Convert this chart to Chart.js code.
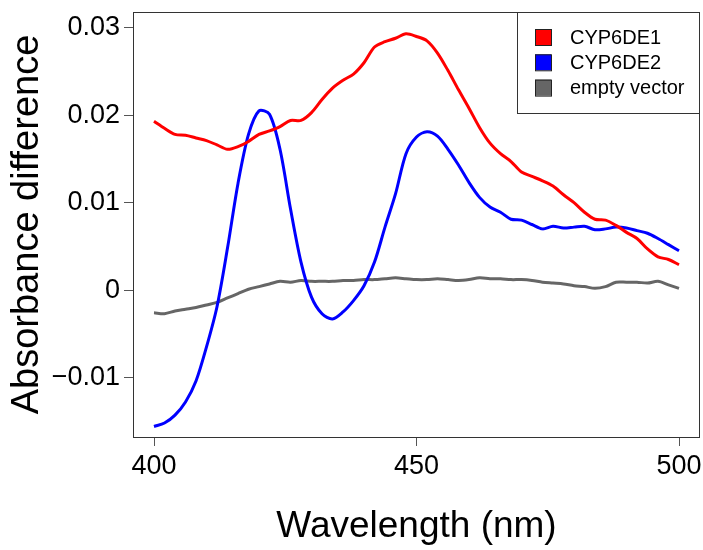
<!DOCTYPE html>
<html>
<head>
<meta charset="utf-8">
<script src="https://cdn.jsdelivr.net/npm/chart.js@4"></script>
<style>
  body { margin: 0; background: #fff; }
</style>
</head>
<body>
<canvas id="myChart" width="703" height="550"></canvas>
<script>
// wavelength (nm), every 2 nm
const wavelengths = [];
for (let w = 400; w <= 500; w += 2) wavelengths.push(w);

const cyp6de1 = [
  0.0193, 0.0185, 0.0178, 0.0177, 0.0174, 0.0171, 0.0166, 0.0161, 0.0164, 0.0170,
  0.0178, 0.0182, 0.0187, 0.0194, 0.0194, 0.0203, 0.0218, 0.0231, 0.0240, 0.0247,
  0.0260, 0.0278, 0.0284, 0.0288, 0.0293, 0.0290, 0.0285, 0.0271, 0.0251, 0.0229,
  0.0208, 0.0186, 0.0168, 0.0156, 0.0147, 0.0135, 0.0130, 0.0125, 0.0119, 0.0109,
  0.0100, 0.0089, 0.0081, 0.0080, 0.0074, 0.0066, 0.0059, 0.0047, 0.0038, 0.0035,
  0.0029
];

const cyp6de2 = [
  -0.0156, -0.0152, -0.0143, -0.0128, -0.0104, -0.0065, -0.0019, 0.0048, 0.0122, 0.0178,
  0.0205, 0.0201, 0.0161, 0.0093, 0.0032, -0.0008, -0.0027, -0.0033, -0.0025, -0.0012,
  0.0005, 0.0032, 0.0072, 0.0110, 0.0156, 0.0175, 0.0181, 0.0176, 0.0161, 0.0143,
  0.0123, 0.0106, 0.0095, 0.0089, 0.0081, 0.0080, 0.0075, 0.0070, 0.0073, 0.0071,
  0.0072, 0.0073, 0.0069, 0.0070, 0.0072, 0.0071, 0.0068, 0.0065, 0.0059, 0.0052,
  0.0045
];

const emptyVector = [
  -0.0026, -0.0027, -0.0024, -0.0022, -0.0020, -0.0017, -0.0014, -0.0009, -0.0004, 0.0001,
  0.0004, 0.0007, 0.0010, 0.0009, 0.0011, 0.0010, 0.0010, 0.0010, 0.0011, 0.0011,
  0.0012, 0.0012, 0.0013, 0.0014, 0.0013, 0.0012, 0.0012, 0.0013, 0.0012, 0.0011,
  0.0012, 0.0014, 0.0013, 0.0013, 0.0012, 0.0012, 0.0011, 0.0009, 0.0008, 0.0007,
  0.0005, 0.0004, 0.0002, 0.0004, 0.0009, 0.0009, 0.0009, 0.0008, 0.0010, 0.0006,
  0.0002
];

const xTicks = [400, 450, 500];
const yTicks = [-0.01, 0, 0.01, 0.02, 0.03];

const FONT = "'Liberation Sans', Arial, sans-serif";

function pts(arr) {
  return wavelengths.map((w, i) => ({ x: w, y: arr[i] }));
}

// box round the plot + legend in the top right corner
const framePlugin = {
  id: 'frame',
  afterDraw(chart) {
    const ctx = chart.ctx;
    const a = chart.chartArea;
    ctx.save();
    ctx.strokeStyle = '#333';
    ctx.lineWidth = 1;
    ctx.strokeRect(a.left + 0.5, a.top + 0.5, a.right - a.left - 1, a.bottom - a.top);

    // legend
    const bx = 517, by = a.top, bw = a.right - 517, bh = 101;
    ctx.fillStyle = '#fff';
    ctx.fillRect(bx, by, bw, bh);
    ctx.strokeRect(bx + 0.5, by + 0.5, bw - 1, bh);
    ctx.font = '20px ' + FONT;
    ctx.textBaseline = 'middle';
    chart.data.datasets.forEach((ds, i) => {
      const cy = 37 + i * 25.3;
      ctx.fillStyle = ds.borderColor;
      ctx.fillRect(535, cy - 8, 16, 16);
      ctx.strokeStyle = '#222';
      ctx.strokeRect(535.5, cy - 7.5, 16, 16);
      ctx.fillStyle = '#000';
      ctx.fillText(ds.label, 570, cy + 1);
    });
    ctx.restore();
  }
};

const ctx = document.getElementById('myChart');
const myChart = new Chart(ctx, {
  type: 'line',
  data: {
    datasets: [
      { label: 'CYP6DE1', data: pts(cyp6de1), borderColor: '#ff0000' },
      { label: 'CYP6DE2', data: pts(cyp6de2), borderColor: '#0000ff' },
      { label: 'empty vector', data: pts(emptyVector), borderColor: '#666666' }
    ]
  },
  options: {
    responsive: false,
    animation: false,
    layout: { padding: { left: 0, right: 3, top: 12, bottom: 0 } },
    elements: {
      point: { radius: 0 },
      line: { borderWidth: 3, tension: 0.3, fill: false }
    },
    plugins: {
      legend: { display: false },
      tooltip: { enabled: false }
    },
    scales: {
      x: {
        type: 'linear',
        min: 396,
        max: 504,
        afterBuildTicks: s => { s.ticks = xTicks.map(v => ({ value: v })); },
        afterFit: s => { s.height = 113; s.paddingLeft = 0; s.paddingRight = 0; },
        border: { display: false },
        grid: { drawOnChartArea: false, tickLength: 9, tickColor: '#555' },
        ticks: {
          color: '#000',
          padding: 4,
          maxRotation: 0,
          font: { family: FONT, size: 27 },
          callback: v => String(v)
        },
        title: {
          display: true,
          text: 'Wavelength (nm)',
          color: '#000',
          font: { family: FONT, size: 37 },
          padding: { top: 0, bottom: 1 }
        }
      },
      y: {
        min: -0.0168,
        max: 0.0318,
        afterBuildTicks: s => { s.ticks = yTicks.map(v => ({ value: v })); },
        afterFit: s => { s.width = 133; s.paddingTop = 0; s.paddingBottom = 0; },
        border: { display: false },
        grid: { drawOnChartArea: false, tickLength: 9, tickColor: '#555' },
        ticks: {
          color: '#000',
          padding: 4,
          font: { family: FONT, size: 27 },
          callback: v => {
            if (Math.abs(v) < 1e-9) return '0';
            const s = Math.abs(v).toFixed(2);
            return v < 0 ? '\u2212' + s : s;
          }
        },
        title: {
          display: true,
          text: 'Absorbance difference',
          color: '#000',
          font: { family: FONT, size: 38 },
          padding: { top: 5, bottom: 0 }
        }
      }
    }
  },
  plugins: [framePlugin]
});
</script>
</body>
</html>
